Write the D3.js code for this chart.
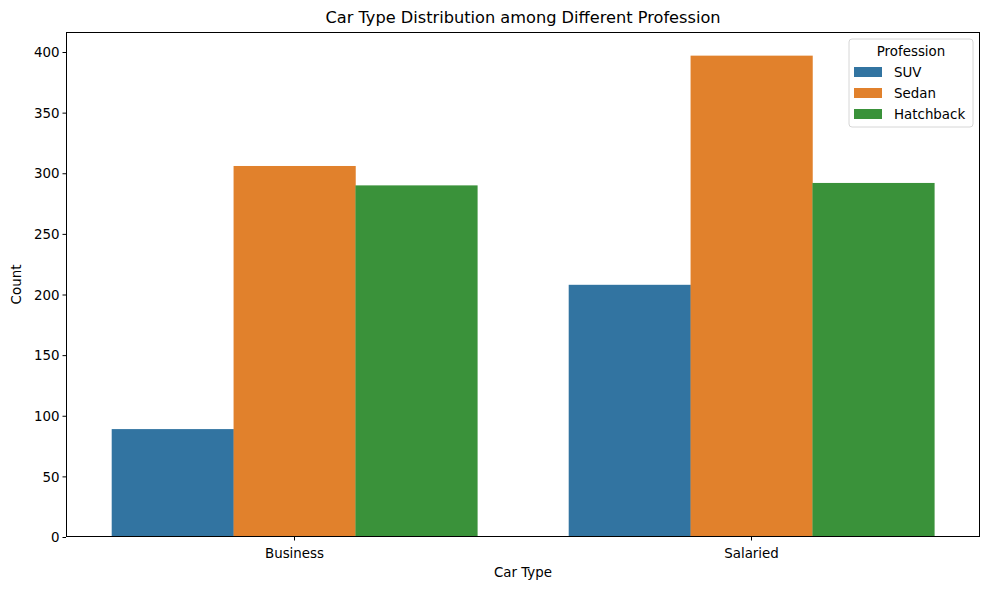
<!DOCTYPE html>
<html>
<head>
<meta charset="utf-8">
<script src="https://cdn.jsdelivr.net/npm/d3@7"></script>
<style>
  body { margin: 0; background: #fff; }
  svg text { font-family: "DejaVu Sans", sans-serif; fill: #000; }
</style>
</head>
<body>
<svg id="chart" width="989" height="590"></svg>
<script>
// data
var carTypes = ["Business", "Salaried"];
var professions = ["SUV", "Sedan", "Hatchback"];
var suvCounts = [89, 208];
var sedanCounts = [306, 397];
var hatchbackCounts = [290, 292];
var yTicks = [0, 50, 100, 150, 200, 250, 300, 350, 400];
var colors = ["#3274a1", "#e1812c", "#3a923a"];

var seriesValues = [suvCounts, sedanCounts, hatchbackCounts];

var margin = {left: 66, right: 9, top: 32, bottom: 53};
var width = 989 - margin.left - margin.right;
var height = 590 - margin.top - margin.bottom;

var svg = d3.select("#chart");
var g = svg.append("g")
    .attr("transform", "translate(" + margin.left + "," + margin.top + ")");

var x = d3.scaleBand()
    .domain(carTypes)
    .range([0, width])
    .paddingInner(0.2)
    .paddingOuter(0.1);

var xInner = d3.scaleBand()
    .domain(professions)
    .range([0, x.bandwidth()]);

var y = d3.scaleLinear()
    .domain([0, 416.5])
    .range([height, 0]);

// bars
professions.forEach(function (p, i) {
    g.append("g")
        .selectAll("rect")
        .data(carTypes)
        .enter()
        .append("rect")
        .attr("x", function (d) { return x(d) + xInner(p); })
        .attr("y", function (d, j) { return y(seriesValues[i][j]); })
        .attr("width", xInner.bandwidth() + 0.3)
        .attr("height", function (d, j) { return height - y(seriesValues[i][j]); })
        .attr("fill", colors[i]);
});

// axes
var xAxis = g.append("g")
    .attr("transform", "translate(0," + height + ")")
    .call(d3.axisBottom(x).tickSize(3.5).tickSizeOuter(0));
var yAxis = g.append("g")
    .call(d3.axisLeft(y).tickValues(yTicks).tickSize(3.5).tickSizeOuter(0));

[xAxis, yAxis].forEach(function (a) {
    a.select(".domain").remove();
    a.selectAll("line").attr("stroke", "#000").attr("stroke-width", 1);
    a.selectAll("text").style("font-size", "13.4px").style("font-family", "DejaVu Sans");
});
xAxis.selectAll("text").attr("dy", "1.05em");
yAxis.selectAll("text").attr("x", -6.5).attr("dy", "0.35em");

// frame
g.append("rect")
    .attr("x", 0.5)
    .attr("y", 0.5)
    .attr("width", width - 1)
    .attr("height", height - 1)
    .attr("fill", "none")
    .attr("stroke", "#000")
    .attr("stroke-width", 1)
    .attr("shape-rendering", "crispEdges");

// title and labels
svg.append("text")
    .attr("x", margin.left + width / 2)
    .attr("y", 23)
    .attr("text-anchor", "middle")
    .style("font-size", "16.2px")
    .text("Car Type Distribution among Different Profession");

svg.append("text")
    .attr("x", margin.left + width / 2)
    .attr("y", 577)
    .attr("text-anchor", "middle")
    .style("font-size", "13.4px")
    .text("Car Type");

svg.append("text")
    .attr("transform", "translate(21," + (margin.top + height / 2) + ") rotate(-90)")
    .attr("text-anchor", "middle")
    .style("font-size", "13.4px")
    .text("Count");

// legend
var legend = svg.append("g").attr("transform", "translate(849,39)");
legend.append("rect")
    .attr("width", 124)
    .attr("height", 88)
    .attr("rx", 3)
    .attr("fill", "#fff")
    .attr("fill-opacity", 0.8)
    .attr("stroke", "#ccc")
    .attr("stroke-width", 0.8);
legend.append("text")
    .attr("x", 62)
    .attr("y", 17)
    .attr("text-anchor", "middle")
    .style("font-size", "13.4px")
    .text("Profession");

var items = legend.selectAll("g.item")
    .data(professions)
    .enter()
    .append("g")
    .attr("class", "item")
    .attr("transform", function (d, i) { return "translate(0," + (33 + i * 21) + ")"; });
items.append("rect")
    .attr("x", 5)
    .attr("y", -5)
    .attr("width", 28)
    .attr("height", 10)
    .attr("fill", function (d, i) { return colors[i]; });
items.append("text")
    .attr("x", 45)
    .attr("dy", "0.35em")
    .style("font-size", "13.4px")
    .text(function (d) { return d; });
</script>
</body>
</html>
